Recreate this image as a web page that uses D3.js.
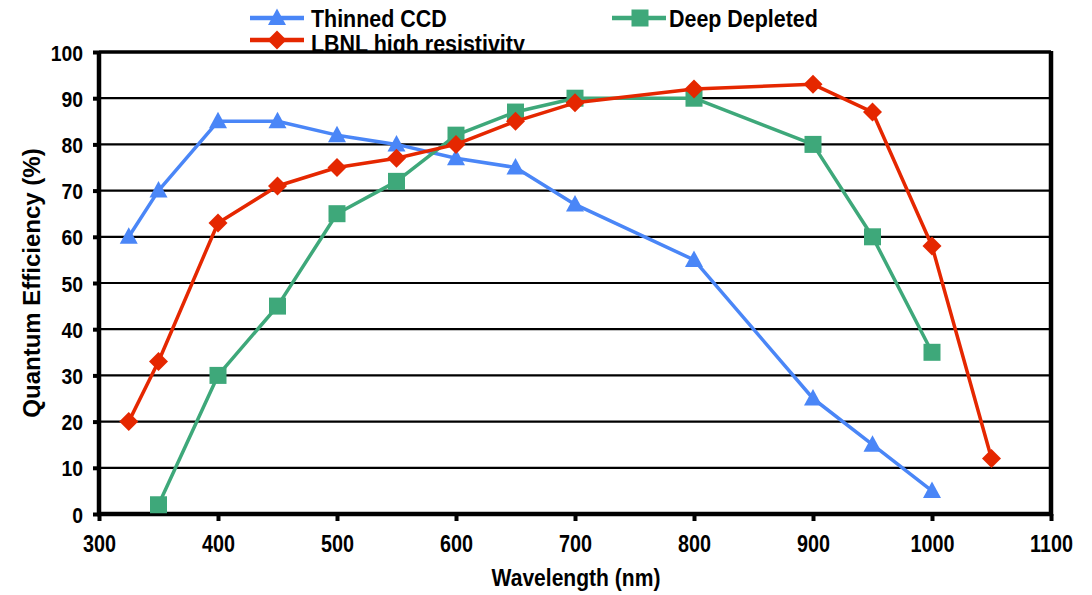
<!DOCTYPE html>
<html><head><meta charset="utf-8">
<script src="https://cdn.jsdelivr.net/npm/d3@7"></script>
<style>body{margin:0;background:#fff}svg{display:block;font-family:"Liberation Sans",Arial,sans-serif;font-weight:bold}</style>
</head><body><svg id="c" width="1092" height="595"></svg>
<script>
const xTicks=[300,400,500,600,700,800,900,1000,1100];
const yTicks=[0,10,20,30,40,50,60,70,80,90,100];
const thinnedX=[325,350,400,450,500,550,600,650,700,800,900,950,1000];
const thinnedY=[60,70,85,85,82,80,77,75,67,55,25,15,5];
const deepX=[350,400,450,500,550,600,650,700,800,900,950,1000];
const deepY=[2,30,45,65,72,82,87,90,90,80,60,35];
const lbnlX=[325,350,400,450,500,550,600,650,700,800,900,950,1000,1050];
const lbnlY=[20,33,63,71,75,77,80,85,89,92,93,87,58,12];
const seriesNames=["Thinned CCD","Deep Depleted","LBNL high resistivity"];
const colors=["#4a86f7","#3ea87a","#e52700"];

const svg=d3.select("#c");
const L=99,R=1051,T=52,B=514;
const x=d3.scaleLinear().domain([300,1100]).range([L,R]);
const y=d3.scaleLinear().domain([0,100]).range([B,T]);

const series=[
 {name:seriesNames[0],xs:thinnedX,ys:thinnedY,c:colors[0],s:0},
 {name:seriesNames[1],xs:deepX,ys:deepY,c:colors[1],s:1},
 {name:seriesNames[2],xs:lbnlX,ys:lbnlY,c:colors[2],s:2}
];
function marker(g,s,c,px,py){
  const t=`translate(${px},${py})`;
  if(s===0) g.append("path").attr("d","M0,-9.5L9,7L-9,7Z").attr("transform",t).attr("fill",c);
  else if(s===1) g.append("rect").attr("x",-8.5).attr("y",-8.5).attr("width",17).attr("height",17).attr("transform",t).attr("fill",c);
  else g.append("path").attr("d","M0,-9.5L9.5,0L0,9.5L-9.5,0Z").attr("transform",t).attr("fill",c);
}
function ctext(g,px,py,str,fs,sx,anchor){
  return g.append("text").attr("transform",`translate(${px},${py}) scale(${sx},1)`)
    .attr("text-anchor",anchor||"start").attr("font-size",fs).text(str);
}
// legend (drawn first, partially covered by plot)
const leg=[{s:0,x0:250,x1:304,mx:277,y0:18,ty:27,tx:311},{s:1,x0:612,x1:666,mx:640,y0:18,ty:27,tx:669},{s:2,x0:250,x1:304,mx:277,y0:40,ty:52,tx:311}];
leg.forEach(l=>{
  const se=series[l.s];
  const g=svg.append("g");
  g.append("line").attr("x1",l.x0).attr("x2",l.x1).attr("y1",l.y0).attr("y2",l.y0).attr("stroke",se.c).attr("stroke-width",4.5);
  marker(g,l.s,se.c,l.mx,l.y0);
  ctext(g,l.tx,l.ty,se.name,24.5,0.875);
});
// plot background
svg.append("rect").attr("x",L).attr("y",T-1).attr("width",R-L).attr("height",B-T+1).attr("fill","#fff");
// grid
svg.append("g").selectAll("line").data(yTicks).join("line")
 .attr("x1",L).attr("x2",R).attr("y1",d=>y(d)).attr("y2",d=>y(d))
 .attr("stroke","#000").attr("stroke-width",2.2);
// axes
const ya=svg.append("g").attr("transform",`translate(${L},0)`)
 .call(d3.axisLeft(y).tickValues(yTicks).tickSize(6).tickFormat(d3.format("d")));
const xa=svg.append("g").attr("transform",`translate(0,${B})`)
 .call(d3.axisBottom(x).tickValues(xTicks).tickSize(7).tickFormat(d3.format("d")));
[ya,xa].forEach(a=>{
  a.select(".domain").remove();
  a.selectAll(".tick line").attr("stroke","#000").attr("stroke-width",4);
  a.selectAll(".tick text").remove();
});
ya.selectAll(".tick").each(function(d){
  ctext(d3.select(this),-16,8,d3.format("d")(d),22,0.88,"end").attr("fill","#000");
});
xa.selectAll(".tick").each(function(d){
  ctext(d3.select(this),0,38,d3.format("d")(d),23,0.86,"middle").attr("fill","#000");
});
// frame
svg.append("line").attr("x1",L).attr("x2",L).attr("y1",T-1).attr("y2",B+2).attr("stroke","#000").attr("stroke-width",4.5);
svg.append("line").attr("x1",L-2).attr("x2",R+2).attr("y1",B).attr("y2",B).attr("stroke","#000").attr("stroke-width",4.5);
svg.append("line").attr("x1",R).attr("x2",R).attr("y1",T-1).attr("y2",B+2).attr("stroke","#000").attr("stroke-width",4.5);
svg.append("line").attr("x1",L).attr("x2",R).attr("y1",T).attr("y2",T).attr("stroke","#000").attr("stroke-width",3.5);
// series
const line=d3.line();
series.forEach(se=>{
  const pts=se.xs.map((v,i)=>[x(v),y(se.ys[i])]);
  const g=svg.append("g");
  g.append("path").attr("d",line(pts)).attr("fill","none").attr("stroke",se.c).attr("stroke-width",3.5).attr("stroke-linejoin","round");
  pts.forEach(p=>marker(g,se.s,se.c,p[0],p[1]));
});
// axis titles
ctext(svg,576,586,"Wavelength (nm)",24.5,0.86,"middle");
svg.append("text").attr("transform","translate(40,283) rotate(-90)").attr("text-anchor","middle").attr("font-size",24).text("Quantum Efficiency (%)");
</script></body></html>
